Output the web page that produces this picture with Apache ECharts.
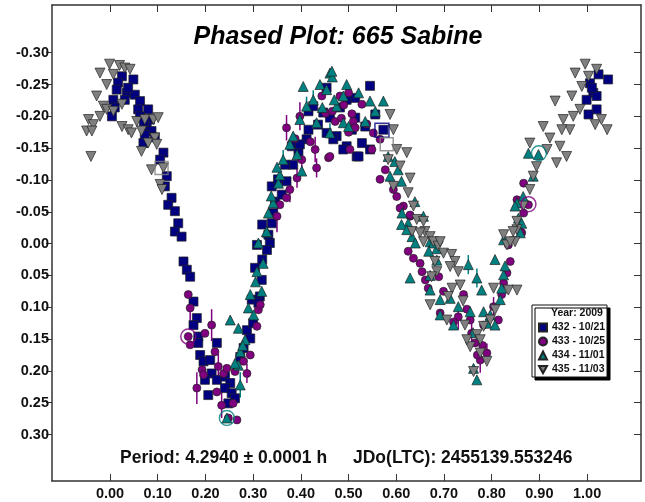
<!DOCTYPE html>
<html><head><meta charset="utf-8">
<script src="https://cdn.jsdelivr.net/npm/echarts@6/dist/echarts.min.js"></script>
<style>html,body{margin:0;padding:0;background:#fff}#c{width:645px;height:502px}</style>
</head><body><div id="c"></div>
<script>
// ---- axes ----
const xMin = -0.1216, xMax = 1.113;
const yMin = -0.375, yMax = 0.373;
const xTicks = [0, 0.1, 0.2, 0.3, 0.4, 0.5, 0.6, 0.7, 0.8, 0.9, 1.0];
const yTicks = [-0.30, -0.25, -0.20, -0.15, -0.10, -0.05, 0, 0.05, 0.10, 0.15, 0.20, 0.25, 0.30];
const seriesNames = ['432 - 10/21', '433 - 10/25', '434 - 11/01', '435 - 11/03'];

// ---- data: [phase, mag] ----
const s432 = [
[0.025,-0.263],[0.049,-0.258],[0.017,-0.253],[0.014,-0.242],[0.035,-0.237],[0.052,-0.234],[0.007,-0.226],[0.031,-0.226],[0.063,-0.224],[0.010,-0.214],[0.059,-0.211],[0.080,-0.211],[0.004,-0.200],[0.063,-0.200],[0.084,-0.195],[0.077,-0.184],[0.087,-0.177],[0.073,-0.171],[0.070,-0.158],[0.112,-0.143],[0.105,-0.132],[0.119,-0.106],[0.115,-0.090],[0.129,-0.072],[0.122,-0.061],[0.136,-0.051],[0.143,-0.032],[0.136,-0.019],[0.150,-0.011],[0.038,-0.245],[0.071,-0.192],[0.094,-0.167],
[0.154,0.028],[0.161,0.041],[0.168,0.052],[0.175,0.091],[0.182,0.117],[0.175,0.128],[0.185,0.146],[0.185,0.156],[0.224,0.156],[0.189,0.175],[0.196,0.185],[0.210,0.183],[0.213,0.204],[0.199,0.214],[0.224,0.214],[0.241,0.209],[0.252,0.219],[0.206,0.238],[0.241,0.227],[0.255,0.235],[0.262,0.243],[0.248,0.251],[0.273,0.178],[0.280,0.164],[0.287,0.136],[0.294,0.149],[0.300,0.125],[0.297,0.088],[0.314,0.083],[0.318,0.057],[0.311,0.093],[0.335,-0.001],[0.329,0.010],[0.332,-0.014],[0.304,0.038],[0.319,0.025],[0.308,0.002],[0.319,-0.030],
[0.339,-0.032],[0.342,-0.048],[0.346,-0.066],[0.339,-0.090],[0.360,-0.077],[0.370,-0.098],[0.384,-0.124],[0.381,-0.153],[0.395,-0.143],[0.412,-0.164],[0.416,-0.179],[0.416,-0.208],[0.426,-0.216],[0.447,-0.206],[0.454,-0.174],[0.475,-0.169],[0.496,-0.153],[0.517,-0.137],[0.507,-0.179],[0.454,-0.245],[0.436,-0.187],[0.461,-0.198],[0.482,-0.214],[0.514,-0.198],[0.535,-0.184],[0.556,-0.203],[0.398,-0.156],[0.367,-0.124],[0.352,-0.101],[0.514,-0.229],
[0.545,-0.248],[0.496,-0.226],[0.489,-0.148],[0.521,-0.137],[0.468,-0.164],[0.545,-0.148],[0.528,-0.158],[0.573,-0.179],
[1.006,-0.252],[1.013,-0.237],[1.020,-0.232],[0.999,-0.226],[1.020,-0.211],[1.003,-0.203],[1.024,-0.266],[1.044,-0.258],[1.010,-0.245]
];
const s433 = [
[0.164,0.080],[0.168,0.101],[0.164,0.146],[0.168,0.159],[0.199,0.141],[0.213,0.128],[0.220,0.170],[0.193,0.198],[0.196,0.206],[0.182,0.227],[0.227,0.193],[0.238,0.204],[0.245,0.196],[0.224,0.233],[0.234,0.254],[0.258,0.251],[0.248,0.274],[0.266,0.277],[0.262,0.201],[0.287,0.204],[0.294,0.175],[0.280,0.185],[0.308,0.130],[0.311,0.104],[0.315,0.096],
[0.370,-0.182],[0.398,-0.200],[0.388,-0.165],[0.402,-0.132],[0.392,-0.103],[0.377,-0.085],[0.370,-0.072],[0.356,-0.061],[0.350,-0.043],[0.433,-0.119],[0.430,-0.148],[0.458,-0.135],[0.444,-0.232],[0.452,-0.205],[0.466,-0.208],[0.482,-0.232],[0.490,-0.218],[0.510,-0.192],[0.503,-0.148],[0.500,-0.175],[0.420,-0.160],
[0.500,-0.237],[0.528,-0.219],[0.507,-0.204],[0.472,-0.192],[0.485,-0.197],[0.514,-0.182],[0.538,-0.188],[0.552,-0.174],[0.566,-0.164],[0.461,-0.137],[0.549,-0.148],[0.577,-0.116],[0.566,-0.101],[0.594,-0.085],[0.601,-0.074],[0.615,-0.059],[0.629,-0.043],
[0.867,-0.095],[0.853,-0.069],[0.877,-0.061],[0.863,-0.017],
[0.608,-0.056],[0.629,-0.045],[0.625,0.012],[0.636,0.023],[0.650,0.031],[0.654,0.044],[0.661,0.057],[0.667,0.070],[0.689,0.052],[0.692,0.109],[0.699,0.075],[0.730,0.115],[0.720,0.123],[0.741,0.080],[0.748,0.103],[0.755,0.120],[0.758,0.141],[0.783,0.128],[0.765,0.156],[0.776,0.183],[0.790,0.172],[0.814,0.120],[0.821,0.080],[0.825,0.062],[0.832,0.046],[0.839,0.028],[0.835,0.002],[0.860,-0.019],[0.867,-0.048],[0.804,0.099],[0.781,0.160],[0.770,0.175]
];
const s434 = [
[0.329,-0.018],[0.311,-0.001],[0.321,0.031],[0.308,0.044],[0.318,0.075],[0.294,0.080],[0.290,0.101],[0.301,0.112],[0.252,0.120],[0.269,0.133],[0.283,0.151],[0.273,0.170],[0.269,0.191],[0.262,0.188],[0.273,0.222],[0.245,0.274],[0.278,0.160],[0.305,0.060],
[0.328,-0.019],[0.332,-0.048],[0.342,-0.064],[0.338,-0.075],[0.353,-0.095],[0.356,-0.108],[0.350,-0.120],[0.363,-0.132],[0.377,-0.156],[0.384,-0.169],[0.405,-0.247],[0.440,-0.250],[0.461,-0.268],[0.466,-0.262],[0.496,-0.250],[0.398,-0.195],[0.412,-0.216],[0.426,-0.226],[0.445,-0.214],[0.454,-0.242],[0.475,-0.216],[0.489,-0.232],[0.433,-0.190],[0.461,-0.174],[0.489,-0.190],[0.402,-0.114],[0.392,-0.140],
[0.465,-0.271],[0.521,-0.237],[0.573,-0.224],[0.556,-0.208],[0.535,-0.192],[0.470,-0.226],[0.500,-0.184],[0.545,-0.224],[0.583,-0.137],[0.597,-0.129],[0.604,-0.116],[0.587,-0.106],[0.611,-0.098],[0.639,-0.066],[0.612,-0.048],[0.625,-0.032],[0.657,-0.043],[0.671,-0.003],[0.685,0.008],
[0.877,-0.142],[0.898,-0.140],[0.866,-0.074],[0.853,-0.064],[0.849,-0.059],[0.856,-0.040],[0.863,-0.032],[0.887,-0.106],
[0.611,-0.030],[0.622,-0.022],[0.633,-0.011],[0.640,-0.001],[0.678,-0.001],[0.668,0.012],[0.685,0.026],[0.629,0.054],[0.671,0.050],[0.671,0.073],[0.692,0.088],[0.713,0.086],[0.730,0.099],[0.751,0.033],[0.769,0.054],[0.779,0.073],[0.692,0.112],[0.720,0.128],[0.755,0.107],[0.761,0.140],[0.783,0.107],[0.790,0.125],[0.797,0.112],[0.807,0.128],[0.769,0.214],[0.762,0.196],[0.807,0.025],[0.825,0.049],[0.821,0.070],[0.818,0.088],[0.828,0.035],[0.860,-0.017],[0.825,-0.006]
];
const s435 = [
[-0.021,-0.268],[-0.001,-0.282],[0.020,-0.280],[0.031,-0.276],[0.042,-0.274],[0.007,-0.266],[-0.007,-0.250],[-0.028,-0.232],[-0.014,-0.216],[-0.045,-0.195],[-0.035,-0.187],[-0.049,-0.177],[-0.038,-0.177],[-0.021,-0.200],[-0.007,-0.211],[0.007,-0.208],[0.025,-0.184],[0.038,-0.179],[0.045,-0.174],[0.056,-0.192],[0.066,-0.177],[0.073,-0.195],[0.091,-0.195],[0.101,-0.198],[0.094,-0.166],[0.080,-0.158],[0.098,-0.156],[0.066,-0.145],[0.087,-0.116],[0.112,-0.119],[0.105,-0.093],[0.109,-0.085],[-0.040,-0.137],[0.025,-0.219],
[0.587,-0.203],[0.594,-0.179],[0.601,-0.148],[0.622,-0.143],[0.583,-0.132],[0.608,-0.122],[0.629,-0.103],[0.594,-0.090],[0.625,-0.080],[0.636,-0.059],[0.643,-0.038],[0.657,-0.035],[0.660,-0.019],[0.671,-0.011],[0.678,-0.003],[0.688,0.004],[0.633,-0.019],[0.650,-0.017],[0.657,-0.003],[0.692,-0.003],[0.699,0.015],[0.716,0.017],[0.723,0.028],[0.681,0.028],[0.685,0.044],[0.713,0.036],[0.730,0.044],[0.734,0.065],[0.674,0.052],[0.717,0.070],[0.709,0.083],[0.671,0.096],[0.706,0.120],[0.744,0.128],[0.755,0.162],[0.769,0.143],[0.776,0.151],[0.783,0.130],[0.776,0.172],[0.762,0.201],[0.748,0.151],[0.797,0.120],[0.807,0.104],[0.804,0.070],[0.825,-0.014],[0.832,0.002],[0.849,-0.003],[0.835,0.073],[0.853,0.073],[0.853,-0.022],[0.839,-0.003],[0.845,-0.019],[0.853,-0.035],[0.866,-0.059],[0.880,-0.085],[0.887,-0.106],[0.894,-0.121],[0.880,-0.158],[0.916,-0.148],[0.936,-0.127],[0.957,-0.137],[0.922,-0.166],[0.943,-0.153],[0.950,-0.195],[0.908,-0.184],[0.933,-0.224],[0.964,-0.179],[0.971,-0.200],[0.989,-0.247],[0.996,-0.282],[1.003,-0.263],[1.020,-0.274],[1.017,-0.187],[0.975,-0.268],[0.968,-0.232],[0.985,-0.211],[0.947,-0.179],[1.042,-0.179],[1.030,-0.195],[0.740,0.090],[0.790,0.185]
];
// error bars: [phase, mag, err]
const err433 = [
[0.370,-0.182,0.020],[0.398,-0.200,0.022],[0.402,-0.132,0.020],[0.392,-0.103,0.015],[0.377,-0.085,0.020],[0.350,-0.043,0.025],[0.433,-0.119,0.015],[0.430,-0.148,0.020],
[0.168,0.101,0.020],[0.193,0.198,0.020],[0.182,0.227,0.025],[0.213,0.128,0.025],[0.227,0.193,0.020],[0.234,0.254,0.020],[0.287,0.204,0.015],
[0.730,0.115,0.020],[0.758,0.141,0.020],[0.776,0.183,0.020],[0.790,0.172,0.015],[0.804,0.099,0.015],[0.825,0.062,0.015]
];
const err434 = [
[0.273,0.222,0.020],[0.769,0.054,0.015],[0.751,0.033,0.015],[0.412,-0.216,0.015],[0.426,-0.226,0.015],[0.461,-0.174,0.015],[0.363,-0.132,0.015]
];
// first-point markers (open symbols)
const open432 = [[0.570,-0.178]];
const open433 = [[0.164,0.146],[0.877,-0.062]];
const open434 = [[0.245,0.274],[0.899,-0.142]];
const open435 = [[0.108,-0.119],[0.580,-0.156]];

const colors = ['#000080', '#800080', '#008080', '#808080'];
const FONT = 'Arial, "Liberation Sans", Helvetica, sans-serif';
const downTri = 'path://M0,0 L10,0 L5,9 Z';

function scatter(name, data, symbol, color, size) {
  return {
    name: name, type: 'scatter', data: data, symbol: symbol, symbolSize: size, z: 3,
    itemStyle: { color: color, borderColor: '#222', borderWidth: 0.7, opacity: 1 },
    emphasis: { disabled: true }, silent: true
  };
}
function openMarks(data, symbol, color, size) {
  return {
    type: 'scatter', data: data, symbol: symbol, symbolSize: size, z: 4,
    itemStyle: { color: 'rgba(0,0,0,0)', borderColor: color, borderWidth: 1.5 },
    emphasis: { disabled: true }, silent: true
  };
}
function errBars(data, color) {
  return {
    type: 'custom', data: data, z: 2, silent: true,
    renderItem: function (params, api) {
      const x = api.value(0), y = api.value(1), e = api.value(2);
      const p1 = api.coord([x, y - e]), p2 = api.coord([x, y + e]);
      return { type: 'line', shape: { x1: p1[0], y1: p1[1], x2: p2[0], y2: p2[1] },
               style: { stroke: color, lineWidth: 1.5 } };
    }
  };
}

const axisLineStyle = { color: '#333', width: 1.5 };
const labelStyle = { color: '#111', fontWeight: 'bold', fontSize: 14.5, fontFamily: FONT };

const chart = echarts.init(document.getElementById('c'), null, { renderer: 'canvas' });
chart.setOption({
  animation: false,
  backgroundColor: '#fff',
  grid: { left: 52, right: 4, top: 5, bottom: 21 },
  xAxis: [
    { type: 'value', min: xMin, max: xMax, position: 'bottom',
      axisLine: { show: true, onZero: false, lineStyle: axisLineStyle },
      axisTick: { show: true, inside: true, length: 7, customValues: xTicks, lineStyle: { color: '#333' } },
      axisLabel: Object.assign({ customValues: xTicks, margin: 5, formatter: v => v.toFixed(2) }, labelStyle),
      splitLine: { show: false } },
    { type: 'value', min: xMin, max: xMax, position: 'top',
      axisLine: { show: true, onZero: false, lineStyle: axisLineStyle },
      axisTick: { show: true, inside: true, length: 7, customValues: xTicks, lineStyle: { color: '#333' } },
      axisLabel: { show: false }, splitLine: { show: false } }
  ],
  yAxis: [
    { type: 'value', inverse: true, min: yMin, max: yMax, position: 'left',
      axisLine: { show: true, onZero: false, lineStyle: axisLineStyle },
      axisTick: { show: true, inside: false, length: 6, customValues: yTicks, lineStyle: { color: '#333' } },
      axisLabel: Object.assign({ customValues: yTicks, margin: 3, formatter: v => v.toFixed(2) }, labelStyle),
      splitLine: { show: false } },
    { type: 'value', inverse: true, min: yMin, max: yMax, position: 'right',
      axisLine: { show: true, onZero: false, lineStyle: axisLineStyle },
      axisTick: { show: true, inside: true, length: 7, customValues: yTicks, lineStyle: { color: '#333' } },
      axisLabel: { show: false }, splitLine: { show: false } }
  ],
  legend: {
    orient: 'vertical', left: 538, top: 322, z: 6,
    itemWidth: 8, itemHeight: 8, itemGap: 3, padding: 0,
    textStyle: { fontSize: 10.5, fontWeight: 'bold', fontFamily: FONT, color: '#111' },
    data: [
      { name: seriesNames[0], icon: 'rect' },
      { name: seriesNames[1], icon: 'circle' },
      { name: seriesNames[2], icon: 'triangle' },
      { name: seriesNames[3], icon: downTri }
    ],
    selectedMode: false
  },
  graphic: [
    { type: 'rect', z: 5, shape: { x: 532, y: 305, width: 75, height: 72 },
      style: { fill: '#fff', stroke: '#111', lineWidth: 1, shadowColor: '#000', shadowOffsetX: 3, shadowOffsetY: 3, shadowBlur: 0 } },
    { type: 'text', z: 7, style: { text: 'Year: 2009', x: 551, y: 313, align: 'left', verticalAlign: 'middle',
      font: 'bold 10.5px ' + FONT, fill: '#111' } },
    { type: 'text', z: 7, style: { text: 'Phased Plot: 665 Sabine', x: 338, y: 37, align: 'center', verticalAlign: 'middle',
      font: 'italic bold 25px ' + FONT, fill: '#000' } },
    { type: 'text', z: 7, style: { text: 'Period: 4.2940 \u00B1 0.0001 h', x: 120, y: 458, align: 'left', verticalAlign: 'middle',
      font: 'bold 17.5px ' + FONT, fill: '#111' } },
    { type: 'text', z: 7, style: { text: 'JDo(LTC): 2455139.553246', x: 353, y: 458, align: 'left', verticalAlign: 'middle',
      font: 'bold 17.5px ' + FONT, fill: '#111' } }
  ],
  series: [
    errBars(err433, colors[1]),
    errBars(err434, colors[2]),
    scatter(seriesNames[0], s432, 'rect', colors[0], 9),
    scatter(seriesNames[1], s433, 'circle', colors[1], 8),
    scatter(seriesNames[2], s434, 'triangle', colors[2], 10),
    scatter(seriesNames[3], s435, downTri, colors[3], 10),
    openMarks(open432, 'rect', colors[0], 14),
    openMarks(open433, 'circle', colors[1], 15),
    openMarks(open434, 'circle', colors[2], 15),
    openMarks(open435, 'rect', colors[3], 13)
  ]
});
</script></body></html>
